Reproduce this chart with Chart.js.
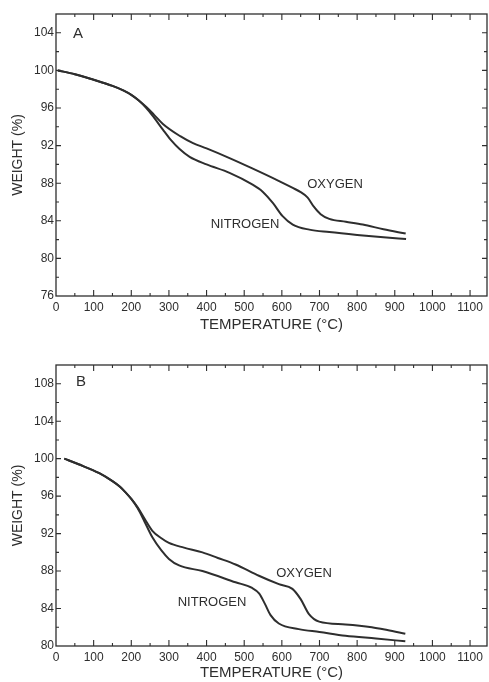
<!DOCTYPE html>
<html>
<head>
<meta charset="utf-8">
<script src="https://cdn.jsdelivr.net/npm/chart.js@4.4.1/dist/chart.umd.min.js"></script>
<style>
  html, body { margin: 0; padding: 0; background: #fff; }
  .panel { position: absolute; left: 0; width: 489px; }
  #pa { top: 0; height: 340px; }
  #pb { top: 340px; height: 342px; }
</style>
</head>
<body>
<div class="panel" id="pa"><canvas id="ca" width="489" height="340"></canvas></div>
<div class="panel" id="pb"><canvas id="cb" width="489" height="342"></canvas></div>
<script>
// ---- Panel A data ----
const tempA_N = [5, 50, 100, 150, 180, 200, 220, 240, 260, 284, 305, 329, 355, 400, 461, 520, 549, 576, 602, 629, 673, 726, 800, 870, 930];
const wA_N    = [100, 99.6, 99.0, 98.35, 97.85, 97.4, 96.8, 96.0, 95.0, 93.7, 92.6, 91.6, 90.8, 90.0, 89.1, 87.9, 87.1, 85.9, 84.5, 83.6, 83.06, 82.8, 82.5, 82.25, 82.07];
const tempA_O = [5, 50, 100, 150, 180, 200, 220, 240, 260, 284, 330, 364, 400, 461, 520, 594, 629, 650, 668, 685, 703, 726, 770, 815, 870, 929];
const wA_O    = [100, 99.6, 99.0, 98.35, 97.85, 97.4, 96.8, 96.1, 95.3, 94.3, 93.0, 92.26, 91.7, 90.67, 89.6, 88.2, 87.5, 87.05, 86.5, 85.5, 84.7, 84.2, 83.9, 83.6, 83.1, 82.64];
// ---- Panel B data ----
const tempB_N = [22, 60, 115, 150, 170, 186, 200, 217, 235, 256, 280, 300, 327, 389, 477, 521, 540, 555, 570, 592, 645, 700, 769, 850, 928];
const wB_N    = [100, 99.4, 98.45, 97.6, 97.0, 96.35, 95.7, 94.7, 93.3, 91.6, 90.2, 89.3, 88.6, 88.0, 86.8, 86.2, 85.6, 84.5, 83.3, 82.4, 81.8, 81.5, 81.1, 80.8, 80.5];
const tempB_O = [22, 60, 115, 150, 170, 186, 200, 217, 235, 256, 280, 300, 340, 389, 430, 477, 539, 592, 628, 650, 672, 699, 769, 839, 880, 928];
const wB_O    = [100, 99.4, 98.45, 97.6, 97.0, 96.35, 95.7, 94.8, 93.6, 92.3, 91.5, 91.0, 90.5, 90.0, 89.4, 88.7, 87.5, 86.6, 86.1, 85.0, 83.4, 82.6, 82.3, 82.0, 81.7, 81.3];
// ---- Axes ----
const xMin = 0, xMax = 1145, xStep = 50, xLabelStep = 100;
const yA = { min: 76, max: 106, labelMax: 104 };
const yB = { min: 80, max: 110, labelMax: 108 };
const yStep = 2, yLabelStep = 4;

const INK = '#2e2e2e';
const FONT = '"Liberation Sans", Arial, Helvetica, sans-serif';
Chart.defaults.font.family = FONT;
Chart.defaults.color = INK;

function pts(xs, ys) { return xs.map((x, i) => ({ x: x, y: ys[i] })); }

const framePlugin = {
  id: 'frame',
  afterDraw(chart, args, opts) {
    const { ctx, chartArea: a, scales } = chart;
    const xs = scales.x, ys = scales.y;
    ctx.save();
    ctx.strokeStyle = INK;
    ctx.lineWidth = 1.3;
    ctx.strokeRect(a.left, a.top, a.right - a.left, a.bottom - a.top);
    ctx.lineWidth = 1.1;
    ctx.beginPath();
    xs.ticks.forEach(t => {
      const px = xs.getPixelForValue(t.value);
      if (px <= a.left + 0.5 || px >= a.right - 0.5) return;
      const major = t.value % xLabelStep === 0;
      const len = major ? 6 : 3;
      ctx.moveTo(px, a.bottom); ctx.lineTo(px, a.bottom - len);
      ctx.moveTo(px, a.top); ctx.lineTo(px, a.top + len);
    });
    ys.ticks.forEach(t => {
      const py = ys.getPixelForValue(t.value);
      if (py >= a.bottom - 0.5 || py <= a.top + 0.5) return;
      const major = (t.value - ys.min) % yLabelStep === 0;
      const len = major ? 5 : 3;
      ctx.moveTo(a.left, py); ctx.lineTo(a.left + len, py);
      ctx.moveTo(a.right, py); ctx.lineTo(a.right - len, py);
    });
    ctx.stroke();
    // annotations
    ctx.fillStyle = INK;
    ctx.textAlign = 'center';
    ctx.textBaseline = 'middle';
    (opts.labels || []).forEach(l => {
      ctx.font = l.font;
      ctx.fillText(l.text, l.x, l.y);
    });
    ctx.restore();
  }
};

function chartHeightFor(id) { return id === 'ca' ? 340 : 342; }
function areaHeightFor(id) { return id === 'ca' ? 282 : 281; }

function makeChart(id, dsN, dsO, yr, pad, xTitlePad, labels) {
  return new Chart(document.getElementById(id), {
    type: 'line',
    data: {
      datasets: [
        { label: 'NITROGEN', data: dsN },
        { label: 'OXYGEN', data: dsO }
      ]
    },
    options: {
      responsive: false,
      animation: false,
      events: [],
      layout: { padding: pad },
      elements: {
        line: { borderColor: INK, borderWidth: 2, cubicInterpolationMode: 'monotone', fill: false },
        point: { radius: 0 }
      },
      plugins: {
        legend: { display: false },
        tooltip: { enabled: false },
        frame: { labels: labels }
      },
      scales: {
        x: {
          type: 'linear', min: xMin, max: xMax,
          grid: { display: false, drawTicks: false },
          border: { display: false },
          ticks: {
            stepSize: xStep, includeBounds: false, autoSkip: false, maxRotation: 0, minRotation: 0,
            padding: 4, font: { size: 12 }, color: INK,
            callback: v => (v % xLabelStep === 0 ? String(v) : '')
          },
          title: { display: true, text: 'TEMPERATURE (°C)', font: { size: 15 }, color: INK, padding: { top: 0, bottom: xTitlePad } },
          afterFit: s => { s.height = chartHeightFor(id) - pad.top - areaHeightFor(id); }
        },
        y: {
          type: 'linear', min: yr.min, max: yr.max,
          grid: { display: false, drawTicks: false },
          border: { display: false },
          ticks: {
            stepSize: yStep, includeBounds: false, autoSkip: false,
            padding: 2, font: { size: 12 }, color: INK,
            callback: v => ((v - yr.min) % yLabelStep === 0 && v <= yr.labelMax ? String(v) : '')
          },
          title: { display: true, text: 'WEIGHT (%)', font: { size: 14 }, color: INK, padding: { top: 10, bottom: 0 } },
          afterFit: s => { s.width = 56; }
        }
      }
    },
    plugins: [framePlugin]
  });
}

makeChart('ca', pts(tempA_N, wA_N), pts(tempA_O, wA_O), yA,
  { top: 14, right: 2, left: 0, bottom: 0 }, 6,
  [
    { text: 'A', x: 78, y: 34, font: '15px ' + FONT },
    { text: 'OXYGEN', x: 335, y: 184, font: '13px ' + FONT },
    { text: 'NITROGEN', x: 245, y: 224, font: '13px ' + FONT }
  ]);

makeChart('cb', pts(tempB_N, wB_N), pts(tempB_O, wB_O), yB,
  { top: 25, right: 2, left: 0, bottom: 0 }, 0,
  [
    { text: 'B', x: 81, y: 42, font: '15px ' + FONT },
    { text: 'OXYGEN', x: 304, y: 233, font: '13px ' + FONT },
    { text: 'NITROGEN', x: 212, y: 262, font: '13px ' + FONT }
  ]);
</script>
</body>
</html>
